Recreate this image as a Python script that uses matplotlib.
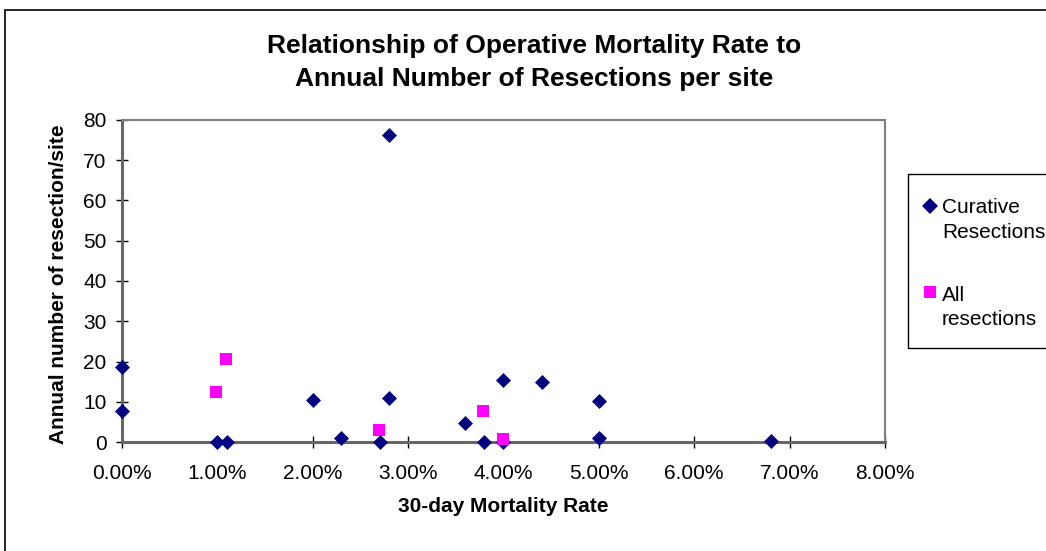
import matplotlib.pyplot as plt
from matplotlib.ticker import PercentFormatter, MultipleLocator
from matplotlib.patches import Rectangle
from matplotlib.lines import Line2D

plt.rcParams['font.family'] = ['Liberation Sans', 'DejaVu Sans']

# 30-day mortality rate (fraction) vs annual number of resections per site
curative_rate = [0.000, 0.000, 0.010, 0.011, 0.020, 0.023, 0.027, 0.028, 0.028,
                 0.036, 0.038, 0.040, 0.040, 0.044, 0.050, 0.050, 0.068]
curative_n = [18.7, 7.8, 0.1, 0.1, 10.4, 0.9, 0.0, 76.2, 10.9,
              4.7, 0.1, 15.3, 0.0, 14.8, 10.2, 0.9, 0.2]
all_rate = [0.0099, 0.0109, 0.0269, 0.0378, 0.0399]
all_n = [12.3, 20.6, 3.0, 7.8, 0.7]
legend_labels = ['Curative\nResections', 'All\nresections']

W, H = 1046, 551
fig = plt.figure(figsize=(W / 100, H / 100), dpi=100)
ax = fig.add_axes([122 / W, 1 - 442 / H, (885 - 122) / W, (442 - 120) / H])

navy = '#000080'
magenta = '#ff00ff'
ax.plot(curative_rate, curative_n, ls='none', marker='D', ms=7.2, color=navy,
        mec=navy, mew=0.5, clip_on=False, zorder=3)
ax.plot(all_rate, all_n, ls='none', marker='s', ms=9, color=magenta,
        mec=magenta, mew=0, clip_on=False, zorder=4)

ax.set_xlim(0, 0.08)
ax.set_ylim(0, 80)
ax.xaxis.set_major_locator(MultipleLocator(0.01))
ax.yaxis.set_major_locator(MultipleLocator(10))
ax.xaxis.set_major_formatter(PercentFormatter(1.0, decimals=2))

for s in ['top', 'right']:
    ax.spines[s].set_color('#808080')
    ax.spines[s].set_linewidth(1.5)
for s in ['left', 'bottom']:
    ax.spines[s].set_color('#666666')
    ax.spines[s].set_linewidth(2.2)

ax.tick_params(axis='both', direction='inout', length=9, width=1, color='black')
ax.tick_params(axis='x', labelsize=15, pad=11)
ax.tick_params(axis='y', labelsize=15, pad=6.5)

ax.set_xlabel('30-day Mortality Rate', fontsize=15, fontweight='bold')
ax.set_ylabel('Annual number of resection/site', fontsize=15, fontweight='bold')
ax.xaxis.set_label_coords(0.5, (442 - 497) / 322)
ax.yaxis.set_label_coords((68 - 122) / 763, 0.49)

fig.text(534 / W, 1 - 53 / H, 'Relationship of Operative Mortality Rate to',
         ha='center', va='baseline', fontsize=19, fontweight='bold')
fig.text(534 / W, 1 - 86 / H, 'Annual Number of Resections per site',
         ha='center', va='baseline', fontsize=19, fontweight='bold')

# outer chart border
fig.add_artist(Rectangle((5 / W, -0.1), 1.2, 1.1 - 10 / H, transform=fig.transFigure,
                         fill=False, ec='black', lw=1.2, clip_on=False))

# legend box
fig.add_artist(Rectangle((908 / W, 1 - 348 / H), 0.2, (348 - 174) / H,
                         transform=fig.transFigure, fill=False, ec='black', lw=1,
                         clip_on=False))
entries = [('D', navy, 8.5, 206, 237.5), ('s', magenta, 9, 292, 325)]
for (mk, col, ms, ym, yb), lab in zip(entries, legend_labels):
    fig.add_artist(Line2D([930 / W], [1 - ym / H], transform=fig.transFigure,
                          marker=mk, ms=ms, color=col, ls='none', mew=0))
    fig.text(942 / W, 1 - yb / H, lab, ha='left', va='baseline', fontsize=15,
             linespacing=1.35)

fig.savefig('out.png', dpi=100)
